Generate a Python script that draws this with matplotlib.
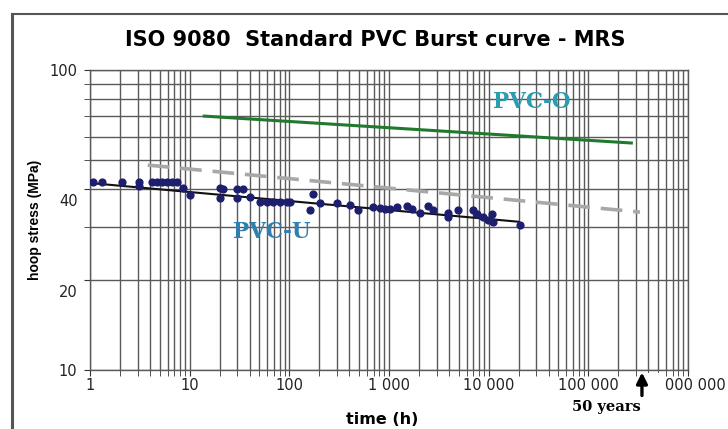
import numpy as np
import matplotlib
matplotlib.use("Agg")
import matplotlib.pyplot as plt
import matplotlib.transforms as mtransforms
from matplotlib.ticker import FixedLocator, NullFormatter, LogLocator

# === data ===
pvcu_time = [1.07, 1.32, 2.09, 3.1, 3.1, 4.19, 4.7, 5.27, 5.92, 6.64, 7.46, 8.57, 10.1,
             20.1, 20.1, 21.6, 29.8, 29.8, 34.3, 40.3, 50.7, 59.6, 68.5, 80.5, 94.6, 101,
             172, 161, 203, 300, 405, 488, 689, 811, 910, 1020, 1200, 1510, 1700, 2040,
             2460, 2760, 3900, 3900, 4910, 6950, 7620, 8750, 9810, 10800, 11000, 20600]
pvcu_stress = [42.4, 42.4, 42.4, 42.4, 41.1, 42.4, 42.4, 42.4, 42.4, 42.4, 42.4, 40.4, 38.3,
               40.4, 37.4, 40.1, 40.1, 37.4, 40.1, 37.7, 36.3, 36.3, 36.3, 36.3, 36.3, 36.3,
               38.6, 34.1, 36.0, 36.0, 35.5, 34.1, 35.0, 34.7, 34.4, 34.4, 35.0, 35.2, 34.4, 33.4,
               35.2, 34.1, 33.4, 32.4, 34.1, 34.1, 33.0, 32.4, 31.6, 33.0, 31.2, 30.4]

fit_time = [1, 20000]
fit_stress = [42.0, 31.2]

lcl_time = [3.8, 330000]
lcl_stress = [48.2, 33.6]

pvco_time = [14, 270000]
pvco_stress = [70.2, 57.1]

x_ticks = [1, 10, 100, 1000, 10000, 100000, 1000000]
x_labels = ["1", "10", "100", "1 000", "10 000", "100 000", "1 000 000"]
y_ticks = [10, 20, 40, 100]
y_labels = ["10", "20", "40", "100"]

SANS = ['DejaVu Sans']
SERIF = ['DejaVu Serif']
plt.rcParams['font.family'] = SANS

fig = plt.figure(figsize=(7.28, 4.29), dpi=100)
ax = fig.add_axes([90 / 728, 59 / 429, 598 / 728, 300 / 429])

# outer chart frame
fig.add_artist(plt.Line2D([12 / 728, 12 / 728], [0, 1 - 14 / 429], color='#555555', lw=2.2,
                          transform=fig.transFigure))
fig.add_artist(plt.Line2D([12 / 728, 1], [1 - 14 / 429, 1 - 14 / 429], color='#555555', lw=1.5,
                          transform=fig.transFigure))

ax.set_xscale('log')
ax.set_yscale('log')
ax.set_xlim(1, 1e6)
ax.set_ylim(10, 100)

ax.xaxis.set_major_locator(FixedLocator(x_ticks))
ax.xaxis.set_minor_locator(LogLocator(base=10, subs=np.arange(2, 10)))
ax.yaxis.set_major_locator(FixedLocator(y_ticks))
ax.yaxis.set_minor_locator(LogLocator(base=10, subs=np.arange(2, 10)))
ax.xaxis.set_minor_formatter(NullFormatter())
ax.yaxis.set_minor_formatter(NullFormatter())
ax.set_xticklabels(x_labels)
ax.set_yticklabels(y_labels)

ax.grid(which='both', color='#5a5a5a', lw=1.0)
ax.set_axisbelow(True)
for s in ax.spines.values():
    s.set_color('#5a5a5a')
    s.set_linewidth(1.0)
ax.tick_params(which='both', length=4, color='#333333', labelsize=10.5, labelcolor='#222222')
ax.tick_params(axis='x', pad=2)
ax.tick_params(axis='y', pad=5)

# the 20 and 40 labels sit a little below their lines in the original
for lab in ax.get_yticklabels():
    if lab.get_text() in ("20", "40"):
        lab.set_transform(lab.get_transform() +
                          mtransforms.ScaledTranslation(0, -0.11, fig.dpi_scale_trans))

ax.plot(pvco_time, pvco_stress, color='#1f7a2e', lw=2.2, zorder=3)
ax.plot(lcl_time, lcl_stress, color='#a8a8a8', lw=2.6, ls=(0, (6, 3)), zorder=3)
ax.plot(fit_time, fit_stress, color='#111111', lw=1.5, zorder=4)
ax.scatter(pvcu_time, pvcu_stress, s=24, color='#1e1e6e', zorder=5)

ax.text(11000, 78.2, "PVC-O", color='#2c9cb0', fontsize=15.5, fontweight='bold',
        va='center', family=SERIF)
ax.text(27, 28.8, "PVC-U", color='#2f7fb0', fontsize=15.5, fontweight='bold',
        va='center', family=SERIF)

fig.text(375 / 728, 1 - 40 / 429, "ISO 9080  Standard PVC Burst curve - MRS",
         fontsize=15, fontweight='bold', ha='center', va='center')
ax.set_ylabel("hoop stress (MPa)", fontsize=10, fontweight='bold',
              family=['Liberation Sans', 'DejaVu Sans'], va='center')
ax.yaxis.set_label_coords((35 - 90) / 598, 0.5)
ax.set_xlabel("time (h)", fontsize=11.5, fontweight='bold', va='center')
ax.xaxis.set_label_coords((382 - 90) / 598, -(419 - 370) / 300)

# 50 years marker (white patch hides the start of the last tick label, as in the original)
ax.add_patch(plt.Rectangle(((637 - 90) / 598, -(398 - 370) / 300), 23 / 598, 25 / 300,
                           transform=ax.transAxes, facecolor='white', edgecolor='none',
                           clip_on=False, zorder=10))
ax.annotate("", xy=(0.923, -0.008), xytext=(0.923, -0.085), xycoords='axes fraction',
            arrowprops=dict(arrowstyle='-|>', color='black', lw=2.4, mutation_scale=16,
                            shrinkA=0, shrinkB=0), zorder=11)
ax.text((606 - 90) / 598, -(407 - 370) / 300, "50 years", transform=ax.transAxes,
        ha='center', va='center', fontsize=10.5, fontweight='bold', family=SERIF)

fig.savefig("out.png", dpi=100)
